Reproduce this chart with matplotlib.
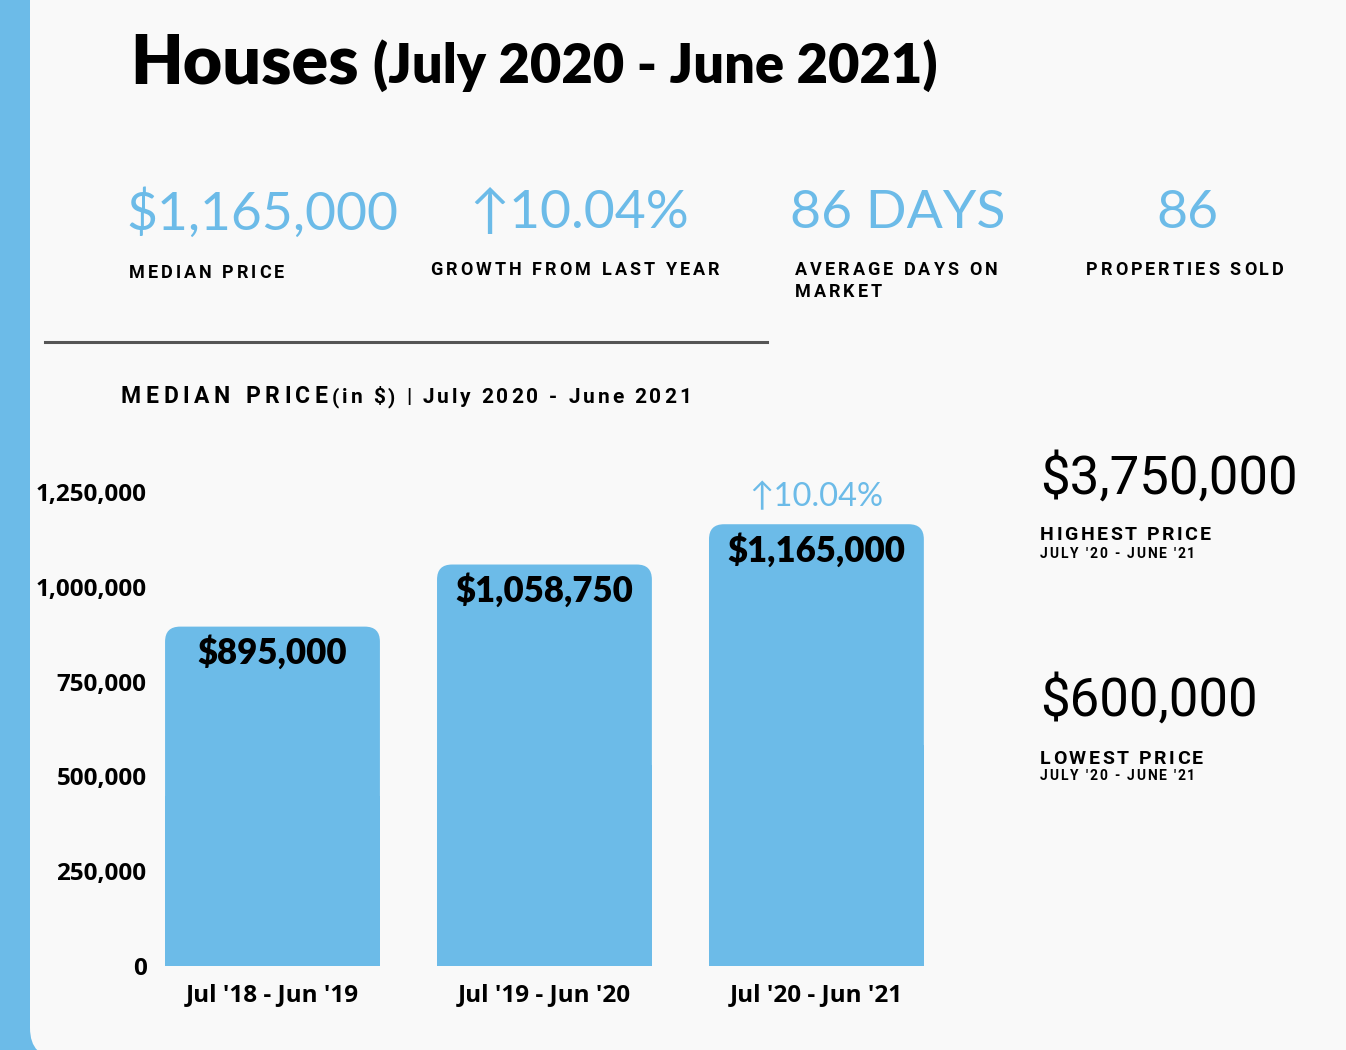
import matplotlib
matplotlib.use("Agg")
import matplotlib.pyplot as plt
from matplotlib.patches import FancyBboxPatch, Rectangle

# chart data
periods = ["Jul '18 - Jun '19", "Jul '19 - Jun '20", "Jul '20 - Jun '21"]
medianPrices = [895000, 1058750, 1165000]
yTicks = [0, 250000, 500000, 750000, 1000000, 1250000]

# headline numbers
kpiValues = ["$1,165,000", "\u219110.04%", "86 DAYS", "86"]
kpiLabels = ["MEDIAN PRICE", "GROWTH FROM LAST YEAR", "AVERAGE DAYS ON", "PROPERTIES SOLD"]
highestPrice = "$3,750,000"
lowestPrice = "$600,000"
sideRange = "JULY '20 - JUNE '21"

blue = "#6cbbe8"
card = "#f9f9f9"
W, H = 1346, 1050

fig = plt.figure(figsize=(W / 100, H / 100), dpi=100, facecolor=blue)
renderer = fig.canvas.get_renderer()

# background axes in pixel coordinates
bg = fig.add_axes([0, 0, 1, 1], zorder=0)
bg.set_xlim(0, W)
bg.set_ylim(H, 0)
bg.axis("off")
# white card, only its bottom-left corner shows its rounding
bg.add_patch(FancyBboxPatch((30, -100), W + 100, H + 108,
                            boxstyle="round,pad=0,rounding_size=30",
                            facecolor=card, edgecolor="none"))


def tracked(x, y, s, size, track, ha="left", family="Roboto", weight="bold", color="black"):
    # letter-spaced text, y is the baseline
    widths = []
    for ch in s:
        t = bg.text(0, 0, ch, fontsize=size, family=family, fontweight=weight)
        w = t.get_window_extent(renderer).width
        t.remove()
        if ch == " ":
            w = size * 100 / 72 * 0.25
        widths.append(w)
    total = sum(widths) + track * (len(s) - 1)
    if ha == "center":
        x -= total / 2
    for ch, w in zip(s, widths):
        bg.text(x, y, ch, fontsize=size, family=family, fontweight=weight,
                color=color, ha="left", va="baseline")
        x += w + track


# title
bg.text(130, 64, "Houses", fontsize=49, fontweight="heavy", family="Lato",
        va="center", ha="left", color="black")
bg.text(373, 66, "(July 2020 - June 2021)", fontsize=39, fontweight="heavy",
        family="Lato", va="center", ha="left", color="black")

# KPI row
kpiX = [262, 579, 898, 1187]
for x, v in zip(kpiX, kpiValues):
    bg.text(x, 214, v, fontsize=38.5, family=["Lato", "DejaVu Sans"],
            color=blue, ha="center", va="center")
tracked(129, 278, kpiLabels[0], 13, 3)
tracked(575, 275, kpiLabels[1], 13, 3.1, ha="center")
tracked(795, 275, kpiLabels[2], 13, 3)
tracked(795, 297, "MARKET", 13, 3)
tracked(1185, 275, kpiLabels[3], 13, 3, ha="center")

bg.plot([45, 767], [342, 342], color="#555555", lw=2.2)

tracked(121, 403, "MEDIAN PRICE", 16.5, 4.6)
tracked(332, 403, "(in $) | July 2020 - June 2021", 15, 2.9)

# right side panel
bg.text(1040, 479, highestPrice, fontsize=38, family="Roboto", va="center", ha="left")
tracked(1040, 540, "HIGHEST PRICE", 14, 2.5)
tracked(1040, 558, sideRange, 10, 1.8)
bg.text(1040, 701, lowestPrice, fontsize=38, family="Roboto", va="center", ha="left")
tracked(1040, 764, "LOWEST PRICE", 14, 2.5)
tracked(1040, 780, sideRange, 10, 1.8)

# bar chart
axL, axR, axB, axT = 155, 935, 966, 492
ax = fig.add_axes([axL / W, (H - axB) / H, (axR - axL) / W, (axB - axT) / H], zorder=1)
ax.patch.set_alpha(0)
ax.set_ylim(0, 1250000)
ax.set_xlim(-0.432, 2.436)
for s in ax.spines.values():
    s.set_visible(False)

xs = list(range(len(periods)))
barW = 0.79
bars = ax.bar(xs, medianPrices, width=barW, color="none")

pxPerX = (axR - axL) / (2.436 + 0.432)
pxPerY = (axB - axT) / 1250000
radius = 15 / pxPerX
aspect = pxPerX / pxPerY
for b in bars:
    x0, h = b.get_x(), b.get_height()
    ax.add_patch(FancyBboxPatch((x0, 0), barW, h,
                                boxstyle="round,pad=0,rounding_size=%f" % radius,
                                mutation_aspect=aspect, facecolor=blue, edgecolor="none"))
    ax.add_patch(Rectangle((x0, 0), barW, h / 2, facecolor=blue, edgecolor="none"))
    ax.annotate("${:,.0f}".format(h), (b.get_x() + barW / 2, h), xytext=(0, -18.5),
                textcoords="offset points", ha="center", va="center",
                fontsize=25, fontweight="heavy", family="Lato")

growth = (medianPrices[-1] - medianPrices[-2]) / medianPrices[-2] * 100
ax.annotate("\u2191{:.2f}%".format(growth), (xs[-1], medianPrices[-1]), xytext=(0, 19.5),
            textcoords="offset points", ha="center", va="center", fontsize=23.5,
            color=blue, family=["Lato", "DejaVu Sans"], annotation_clip=False)

ax.set_yticks(yTicks)
ax.set_yticklabels(["{:,}".format(t) for t in yTicks], fontsize=17.5,
                   fontweight="bold", family="Open Sans")
ax.set_xticks(xs)
ax.set_xticklabels(periods, fontsize=17.5, fontweight="bold", family="Open Sans")
ax.tick_params(axis="y", length=0, pad=6)
ax.tick_params(axis="x", length=0, pad=12)

fig.savefig("out.png", dpi=100, facecolor=blue)
